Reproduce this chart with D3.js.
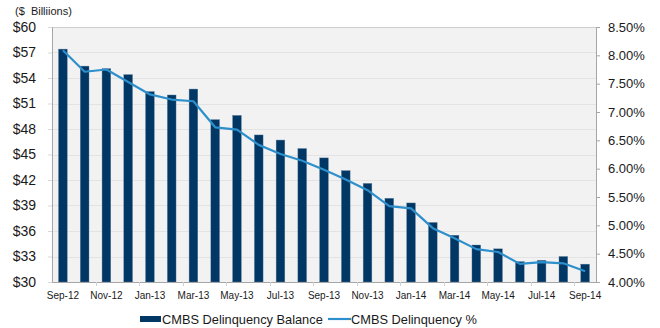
<!DOCTYPE html>
<html>
<head>
<meta charset="utf-8">
<script src="https://cdn.jsdelivr.net/npm/d3@7"></script>
<style>
  html, body { margin: 0; padding: 0; background: #ffffff; }
  svg { display: block; font-family: "Liberation Sans", Arial, sans-serif; }
</style>
</head>
<body>
<svg id="chart" width="660" height="328"></svg>
<script>
// Monthly CMBS delinquency, Sep-12 to Sep-14
const months = ["Sep-12","Oct-12","Nov-12","Dec-12","Jan-13","Feb-13","Mar-13","Apr-13","May-13",
  "Jun-13","Jul-13","Aug-13","Sep-13","Oct-13","Nov-13","Dec-13","Jan-14","Feb-14","Mar-14",
  "Apr-14","May-14","Jun-14","Jul-14","Aug-14","Sep-14"];

// Delinquent balance, $ billions
const balance = [57.4, 55.4, 55.1, 54.4, 52.4, 52.0, 52.7, 49.1, 49.6, 47.3, 46.7, 45.7, 44.6,
  43.1, 41.6, 39.85, 39.3, 37.0, 35.5, 34.35, 33.9, 32.4, 32.55, 33.0, 32.1];

// Delinquency rate, %
const rate = [8.09, 7.71, 7.75, 7.53, 7.31, 7.22, 7.19, 6.73, 6.69, 6.42, 6.26, 6.14, 5.98,
  5.81, 5.62, 5.34, 5.30, 4.95, 4.77, 4.58, 4.53, 4.32, 4.35, 4.33, 4.19];

const leftTicks = [30, 33, 36, 39, 42, 45, 48, 51, 54, 57, 60];
const rightTicks = [4.0, 4.5, 5.0, 5.5, 6.0, 6.5, 7.0, 7.5, 8.0, 8.5];
const seriesNames = ["CMBS Delinquency Balance", "CMBS Delinquency %"];

const svg = d3.select("#chart");
const plot = { left: 52, right: 596, top: 27, bottom: 282 };
const barColor = "#003764";
const lineColor = "#2d8fcb";
const axisColor = "#a6a6a6";
const textColor = "#1a1a1a";

const x = d3.scaleBand().domain(months).range([plot.left, plot.right])
  .paddingInner(0.6).paddingOuter(0.3);
const yL = d3.scaleLinear().domain([30, 60]).range([plot.bottom, plot.top]);
const yR = d3.scaleLinear().domain([4, 8.5]).range([plot.bottom, plot.top]);

// plot background
svg.append("rect")
  .attr("x", plot.left).attr("y", plot.top + 1)
  .attr("width", plot.right - plot.left).attr("height", plot.bottom - plot.top - 1)
  .attr("fill", "#f2f2f2");

// horizontal gridlines
svg.append("g").selectAll("line").data(leftTicks.slice(1))
  .join("line")
  .attr("x1", plot.left).attr("x2", plot.right)
  .attr("y1", d => Math.round(yL(d)) + 0.5).attr("y2", d => Math.round(yL(d)) + 0.5)
  .attr("stroke", d => d === 60 ? "#cfcfcf" : "#e3e3e3").attr("stroke-width", 1);

// bars
svg.append("g").selectAll("rect").data(months)
  .join("rect")
  .attr("x", d => x(d))
  .attr("width", x.bandwidth())
  .attr("y", (d, i) => yL(balance[i]))
  .attr("height", (d, i) => plot.bottom - yL(balance[i]))
  .attr("fill", barColor)
  .attr("stroke", "#5f7f9d").attr("stroke-width", 0.4);

// rate line
const line = d3.line()
  .x((d, i) => x(months[i]) + x.bandwidth() / 2)
  .y(d => yR(d));
svg.append("path").datum(rate)
  .attr("d", line)
  .attr("fill", "none")
  .attr("stroke", lineColor)
  .attr("stroke-width", 2.2)
  .attr("stroke-linejoin", "round");

// left axis
const gL = svg.append("g").attr("transform", `translate(${plot.left},0)`)
  .call(d3.axisLeft(yL).tickValues(leftTicks).tickFormat(d => "$" + d).tickSize(4).tickPadding(12));
gL.select(".domain").attr("stroke", axisColor);
gL.selectAll(".tick line").attr("stroke", "#d9d9d9");
gL.selectAll("text").attr("font-size", 14).attr("fill", textColor)
  .attr("font-family", "'Liberation Sans', Arial, sans-serif");

// right axis
const gR = svg.append("g").attr("transform", `translate(${plot.right},0)`)
  .call(d3.axisRight(yR).tickValues(rightTicks).tickFormat(d => d3.format(".2f")(d) + "%").tickSize(4).tickPadding(8));
gR.select(".domain").attr("stroke", axisColor);
gR.selectAll(".tick line").attr("stroke", axisColor);
gR.selectAll("text").attr("font-size", 13).attr("fill", textColor)
  .attr("font-family", "'Liberation Sans', Arial, sans-serif");

// bottom axis: labels on every other month, ticks on every other band boundary
const labelled = months.filter((d, i) => i % 2 === 0);
const gB = svg.append("g").attr("transform", `translate(0,${plot.bottom})`)
  .call(d3.axisBottom(x).tickValues(labelled).tickSize(0).tickPadding(10));
gB.select(".domain").attr("stroke", axisColor);
gB.selectAll("text").attr("font-size", 10).attr("fill", textColor)
  .attr("font-family", "'Liberation Sans', Arial, sans-serif");
gB.append("g").selectAll("line").data(labelled.slice(1))
  .join("line")
  .attr("x1", d => Math.round(x(d) + x.bandwidth() / 2 - x.step() / 2) + 0.5)
  .attr("x2", d => Math.round(x(d) + x.bandwidth() / 2 - x.step() / 2) + 0.5)
  .attr("y1", 0).attr("y2", 4)
  .attr("stroke", "#d0d0d0");

// units label
svg.append("text")
  .attr("x", 15).attr("y", 15)
  .attr("font-size", 11).attr("fill", textColor)
  .style("white-space", "pre")
  .text("($  Billiions)");

// legend
const leg = svg.append("g");
leg.append("rect").attr("x", 140).attr("y", 316).attr("width", 21).attr("height", 6).attr("fill", barColor);
leg.append("text").attr("x", 162).attr("y", 323.5).attr("font-size", 12.8).attr("fill", textColor)
  .text(seriesNames[0]);
leg.append("line").attr("x1", 328).attr("x2", 351).attr("y1", 319).attr("y2", 319)
  .attr("stroke", lineColor).attr("stroke-width", 2.2);
leg.append("text").attr("x", 351).attr("y", 323.5).attr("font-size", 12.8).attr("fill", textColor)
  .text(seriesNames[1]);
</script>
</body>
</html>
